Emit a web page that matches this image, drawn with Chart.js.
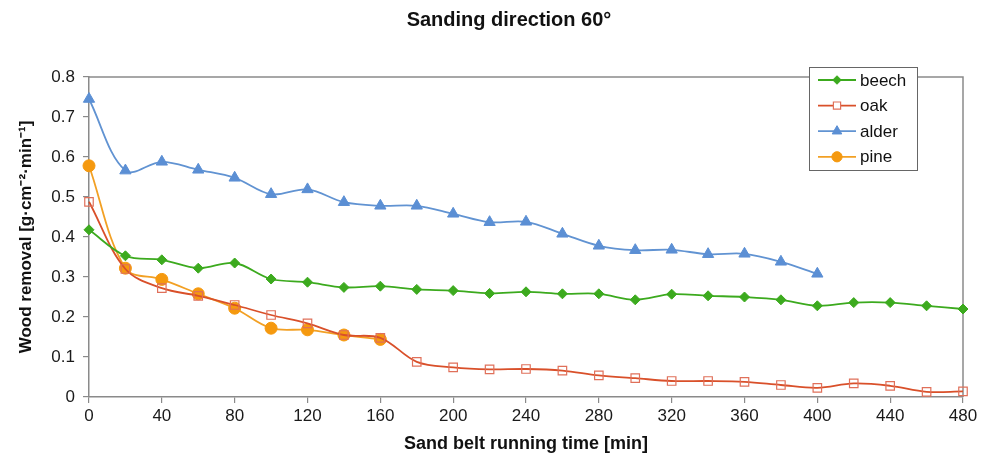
<!DOCTYPE html>
<html>
<head>
<meta charset="utf-8">
<script src="https://cdn.jsdelivr.net/npm/chart.js@4.4.1/dist/chart.umd.min.js"></script>
<style>
html,body{margin:0;padding:0;background:#fff;}
#wrap{width:990px;height:459px;}
</style>
</head>
<body>
<div id="wrap"><canvas id="c" width="990" height="459"></canvas></div>
<script>
const titleText = 'Sanding direction 60°';
const xTitle = 'Sand belt running time [min]';
const yTitle = 'Wood removal [g·cm⁻²·min⁻¹]';
const time = [0,20,40,60,80,100,120,140,160,180,200,220,240,260,280,300,320,340,360,380,400,420,440,460,480];
const beech = [0.418,0.353,0.343,0.322,0.335,0.295,0.287,0.274,0.277,0.269,0.266,0.259,0.263,0.258,0.258,0.243,0.257,0.253,0.250,0.243,0.228,0.236,0.236,0.228,0.220];
const oak = [0.488,0.320,0.272,0.253,0.230,0.205,0.184,0.155,0.148,0.088,0.074,0.069,0.070,0.066,0.054,0.047,0.040,0.040,0.038,0.030,0.023,0.034,0.028,0.013,0.014];
const alder = [0.745,0.566,0.588,0.568,0.548,0.507,0.519,0.487,0.478,0.478,0.458,0.437,0.438,0.408,0.378,0.367,0.368,0.357,0.358,0.338,0.308];
const pine = [0.578,0.322,0.294,0.258,0.222,0.172,0.168,0.155,0.144];
const seriesNames = ['beech','oak','alder','pine'];
const xTicks = ['0','40','80','120','160','200','240','280','320','360','400','440','480'];
const yTicks = ['0','0.1','0.2','0.3','0.4','0.5','0.6','0.7','0.8'];

function pts(vals){ return vals.map((v,i)=>({x: time[i], y: v})); }

const FONT = "'Liberation Sans', Arial, sans-serif";
const GREY = '#8a8a8a';

const datasets = [
  {label: seriesNames[0], data: pts(beech), borderColor:'#3caa1e', backgroundColor:'#3caa1e', clip:false,
   pointStyle:'rectRot', pointRadius:5, pointBorderWidth:1, pointBorderColor:'#3caa1e', borderWidth:1.8},
  {label: seriesNames[1], data: pts(oak), borderColor:'#d9502a', backgroundColor:'rgba(255,255,255,0)', clip:false,
   pointStyle:'rect', pointRadius:6, pointBorderWidth:1.2, pointBorderColor:'#e0705a', borderWidth:1.8},
  {label: seriesNames[2], data: pts(alder), borderColor:'#6193d2', backgroundColor:'#5b8fd4', clip:false,
   pointStyle:'triangle', pointRadius:6.5, pointBorderWidth:1, pointBorderColor:'#5b8fd4', borderWidth:1.8},
  {label: seriesNames[3], data: pts(pine), borderColor:'#f2a024', backgroundColor:'#f5990f', clip:false,
   pointStyle:'circle', pointRadius:6, pointBorderWidth:1, pointBorderColor:'#f5990f', borderWidth:1.8}
];

const framePlugin = {
  id:'frame',
  beforeDatasetsDraw(chart){
    const {ctx, chartArea:a} = chart;
    ctx.save();
    ctx.strokeStyle = GREY; ctx.lineWidth = 1.5;
    ctx.beginPath();
    ctx.moveTo(a.left, a.top); ctx.lineTo(a.right, a.top); ctx.lineTo(a.right, a.bottom);
    ctx.stroke();
    ctx.restore();
  },
  afterDraw(chart){
    const ctx = chart.ctx;
    ctx.save();
    ctx.fillStyle = '#111';
    ctx.font = 'bold 20px ' + FONT;
    ctx.textAlign = 'center'; ctx.textBaseline = 'middle';
    ctx.fillText(titleText, 509, 20);
    const bx = 809, by = 67, bw = 108, bh = 103;
    ctx.fillStyle = '#fff';
    ctx.fillRect(bx, by, bw, bh);
    ctx.strokeStyle = '#666'; ctx.lineWidth = 1;
    ctx.strokeRect(bx+0.5, by+0.5, bw, bh);
    chart.data.datasets.forEach((ds, i) => {
      const y = 80 + i*25.6;
      ctx.strokeStyle = ds.borderColor; ctx.lineWidth = 1.8;
      ctx.beginPath(); ctx.moveTo(818, y); ctx.lineTo(856, y); ctx.stroke();
      ctx.fillStyle = ds.backgroundColor === 'rgba(255,255,255,0)' ? '#fff' : ds.backgroundColor;
      ctx.strokeStyle = ds.pointBorderColor; ctx.lineWidth = ds.pointBorderWidth;
      Chart.helpers.drawPoint(ctx, {pointStyle: ds.pointStyle, radius: ds.pointRadius*0.85, borderWidth: ds.pointBorderWidth, rotation:0}, 837, y);
      ctx.fillStyle = '#111';
      ctx.font = '17px ' + FONT;
      ctx.textAlign = 'left'; ctx.textBaseline = 'middle';
      ctx.fillText(ds.label, 860, y+1);
    });
    ctx.restore();
  }
};

new Chart(document.getElementById('c'), {
  type:'line',
  data:{datasets},
  options:{
    responsive:false,
    animation:false,
    layout:{padding:{top:77, right:27, left:0, bottom:0}},
    elements:{line:{tension:0.35, fill:false}},
    plugins:{legend:{display:false}, title:{display:false}, tooltip:{enabled:false}},
    scales:{
      x:{
        type:'linear', min:0, max:480,
        afterFit(s){ s.height = 62; },
        ticks:{stepSize:40, color:'#1a1a1a', font:{size:17, family:FONT}, padding:3,
               callback:(v)=> xTicks[Math.round(v/40)] ?? ''},
        grid:{display:true, drawOnChartArea:false, drawTicks:true, tickLength:6, color:GREY, lineWidth:1.2},
        border:{display:true, color:GREY, width:1.5},
        title:{display:true, text:xTitle, color:'#111', font:{size:18, weight:'bold', family:FONT}, padding:{top:4}}
      },
      y:{
        min:0, max:0.8,
        afterFit(s){ s.width = 89; },
        ticks:{stepSize:0.1, color:'#1a1a1a', font:{size:17, family:FONT}, padding:8,
               callback:(v)=> yTicks[Math.round(v*10)] ?? ''},
        grid:{display:true, drawOnChartArea:false, drawTicks:true, tickLength:6, color:GREY, lineWidth:1.2},
        border:{display:true, color:GREY, width:1.5},
        title:{display:true, text:yTitle, color:'#111', font:{size:17, weight:'bold', family:FONT}, padding:{top:16, bottom:0}}
      }
    }
  },
  plugins:[framePlugin]
});
</script>
</body>
</html>
